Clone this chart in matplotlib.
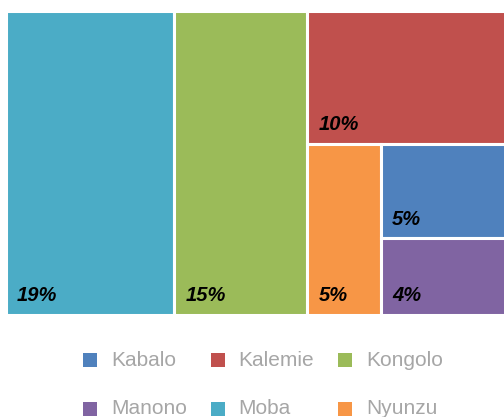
import matplotlib
matplotlib.use("Agg")
import matplotlib.pyplot as plt
from matplotlib.patches import Rectangle

plt.rcParams['font.family'] = ['Liberation Sans', 'DejaVu Sans']

names = ['Kabalo', 'Kalemie', 'Kongolo', 'Manono', 'Moba', 'Nyunzu']
values = [4.65, 10.2, 15, 3.77, 19, 4.65]
colors = ['#4F81BD', '#C0504D', '#9BBB59', '#8064A2', '#4BACC6', '#F79646']

# how the tiles are nested (each level alternates split direction)
tree = ['Moba', 'Kongolo', ['Kalemie', ['Nyunzu', ['Kabalo', 'Manono']]]]

val = dict(zip(names, values))
col = dict(zip(names, colors))


def total(node):
    if isinstance(node, str):
        return val[node]
    return sum(total(n) for n in node)


def layout(node, x, y, w, h, horiz, out):
    if isinstance(node, str):
        out.append((node, x, y, w, h))
        return out
    s = total(node)
    top = y + h
    for child in node:
        f = total(child) / s
        if horiz:
            layout(child, x, y, w * f, h, not horiz, out)
            x += w * f
        else:
            # top to bottom
            top -= h * f
            layout(child, x, top, w, h * f, not horiz, out)
    return out


W, H = 504, 417
fig = plt.figure(figsize=(W / 100, H / 100), dpi=100)

S = total(tree)
px_w = 508.6
ax = fig.add_axes([5.5 / W, 102.5 / H, px_w / W, 304 / H])
ax.set_xlim(0, S)
ax.set_ylim(0, 1)
ax.axis('off')

rects = layout(tree, 0, 0, S, 1, True, [])
for name, x, y, w, h in rects:
    ax.add_patch(Rectangle((x, y), w, h, facecolor=col[name],
                           edgecolor='white', linewidth=2.2))
    ax.annotate(f"{round(val[name])}%", xy=(x, y), xytext=(8.0, 9.6),
                textcoords='offset points', fontsize=14.5, fontweight='bold',
                fontstyle='italic', color='black', va='baseline', ha='left')

# legend, 3 columns x 2 rows
for i, name in enumerate(names):
    cx = 83 + (i % 3) * 127.5
    cy = 360 + (i // 3) * 49
    fig.add_artist(Rectangle((cx / W, 1 - (cy + 7) / H), 14 / W, 14 / H,
                             facecolor=col[name], edgecolor='none',
                             transform=fig.transFigure))
    fig.text((cx + 28) / W, 1 - cy / H, name, fontsize=15, color='#A6A6A6',
             va='center', ha='left')

fig.savefig('out.png', dpi=100)
